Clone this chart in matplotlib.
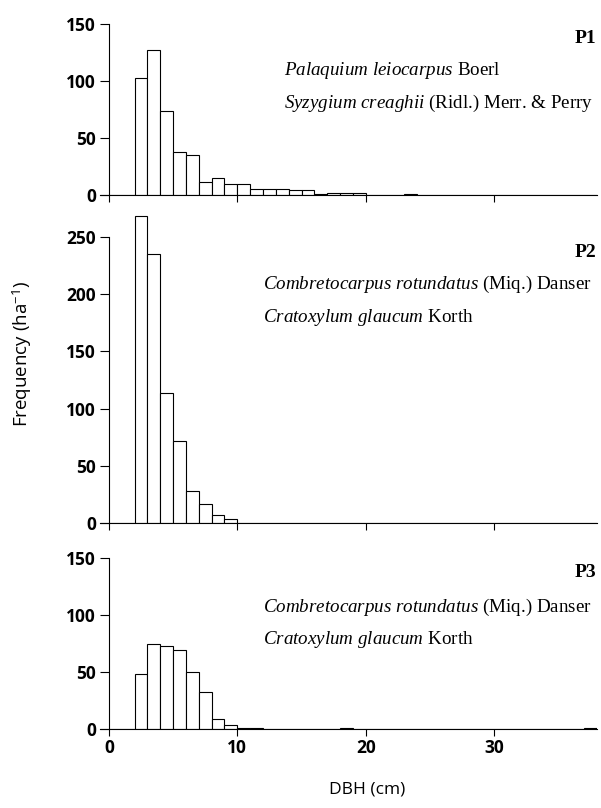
import numpy as np
from matplotlib import pyplot as plt

plt.rcParams['mathtext.fontset'] = 'custom'
plt.rcParams['mathtext.it'] = 'Liberation Serif:italic'
plt.rcParams['mathtext.rm'] = 'Liberation Serif'
plt.rcParams['mathtext.sf'] = 'Open Sans'

# frequency (ha-1) per 1 cm DBH class, classes start at 0, 1, 2 ... cm
p1_freq = [0, 0, 103, 127, 74, 38, 35, 11.5, 14.5, 9.5, 9.5, 5.5, 5.5, 5.5, 4.5, 4.5,
           1, 1.7, 1.7, 1.7, 0, 0, 0, 0.7, 0, 0, 0, 0, 0, 0, 0, 0, 0, 0, 0, 0, 0, 0]
p2_freq = [0, 0, 268, 235, 114, 72, 28, 17, 7, 3.5, 0, 0, 0, 0, 0, 0,
           0, 0, 0, 0, 0, 0, 0, 0, 0, 0, 0, 0, 0, 0, 0, 0, 0, 0, 0, 0, 0, 0]
p3_freq = [0, 0, 48, 75, 73, 69, 50, 33, 9, 3.5, 0.7, 0.7, 0, 0, 0, 0,
           0, 0, 0.7, 0, 0, 0, 0, 0, 0, 0, 0, 0, 0, 0, 0, 0, 0, 0, 0, 0, 0, 0.7]

plot_names = ['P1', 'P2', 'P3']
species = [
    [r'$\mathit{Palaquium\ leiocarpus}$ Boerl',
     r'$\mathit{Syzygium\ creaghii}$ (Ridl.) Merr. & Perry'],
    [r'$\mathit{Combretocarpus\ rotundatus}$ (Miq.) Danser',
     r'$\mathit{Cratoxylum\ glaucum}$ Korth'],
    [r'$\mathit{Combretocarpus\ rotundatus}$ (Miq.) Danser',
     r'$\mathit{Cratoxylum\ glaucum}$ Korth'],
]
y_ticks = [[0, 50, 100, 150], [0, 50, 100, 150, 200, 250], [0, 50, 100, 150]]
y_tops = [150, 270, 150]
x_ticks = [0, 10, 20, 30]

W, H = 601, 808
fig = plt.figure(figsize=(W / 100, H / 100), dpi=100)

# axes boxes in pixels: (bottom, top)
boxes = [(195, 24), (523.3, 213.6), (729.3, 557.7)]
left_px, right_px = 100, 596.7
# text baselines in pixels: P label, species line 1, species line 2
text_y = [(43, 75, 108), (257, 289, 322), (577, 612, 644)]
text_x = [284, 263, 263]

data = [p1_freq, p2_freq, p3_freq]
tick_font = dict(family='Open Sans', weight='bold', size=12.5)

for i in range(3):
    b, t = boxes[i]
    ax = fig.add_axes([left_px / W, 1 - b / H, (right_px - left_px) / W, (b - t) / H])
    freq = data[i]
    edges = np.arange(len(freq))
    ax.bar(edges, freq, width=1, align='edge', color='white', edgecolor='black',
           linewidth=0.8, zorder=2)
    ax.set_xlim(-0.7, 38)
    ax.set_ylim(0, y_tops[i])
    ax.spines['top'].set_visible(False)
    ax.spines['right'].set_visible(False)
    ax.spines['left'].set_bounds(0, y_ticks[i][-1])
    ax.spines['left'].set_position(('data', 0))
    ax.set_xticks(x_ticks)
    ax.set_yticks(y_ticks[i])
    ax.tick_params(axis='x', length=5, width=0.8, pad=2)
    ax.tick_params(axis='y', length=6.5, width=0.8, pad=3)
    if i < 2:
        ax.set_xticklabels([])
    else:
        ax.set_xticklabels([str(v) for v in x_ticks], fontdict=tick_font)
    ax.set_yticklabels([str(v) for v in y_ticks[i]], fontdict=tick_font)

    ty = text_y[i]
    fig.text(596 / W, 1 - ty[0] / H, plot_names[i], ha='right', va='baseline',
             family='Liberation Serif', weight='bold', size=14)
    fig.text(text_x[i] / W, 1 - ty[1] / H, species[i][0], ha='left', va='baseline',
             family='Liberation Serif', size=13.7)
    fig.text(text_x[i] / W, 1 - ty[2] / H, species[i][1], ha='left', va='baseline',
             family='Liberation Serif', size=13.7)

fig.text(22 / W, 1 - 354 / H, r'Frequency (ha$^{\mathsf{-1}}$)', rotation=90,
         ha='center', va='center', family='Open Sans', size=13.5)
fig.text(367 / W, 1 - 790 / H, 'DBH (cm)', ha='center', va='center',
         family='Open Sans', size=12.5)

fig.savefig('out.png', dpi=100)
